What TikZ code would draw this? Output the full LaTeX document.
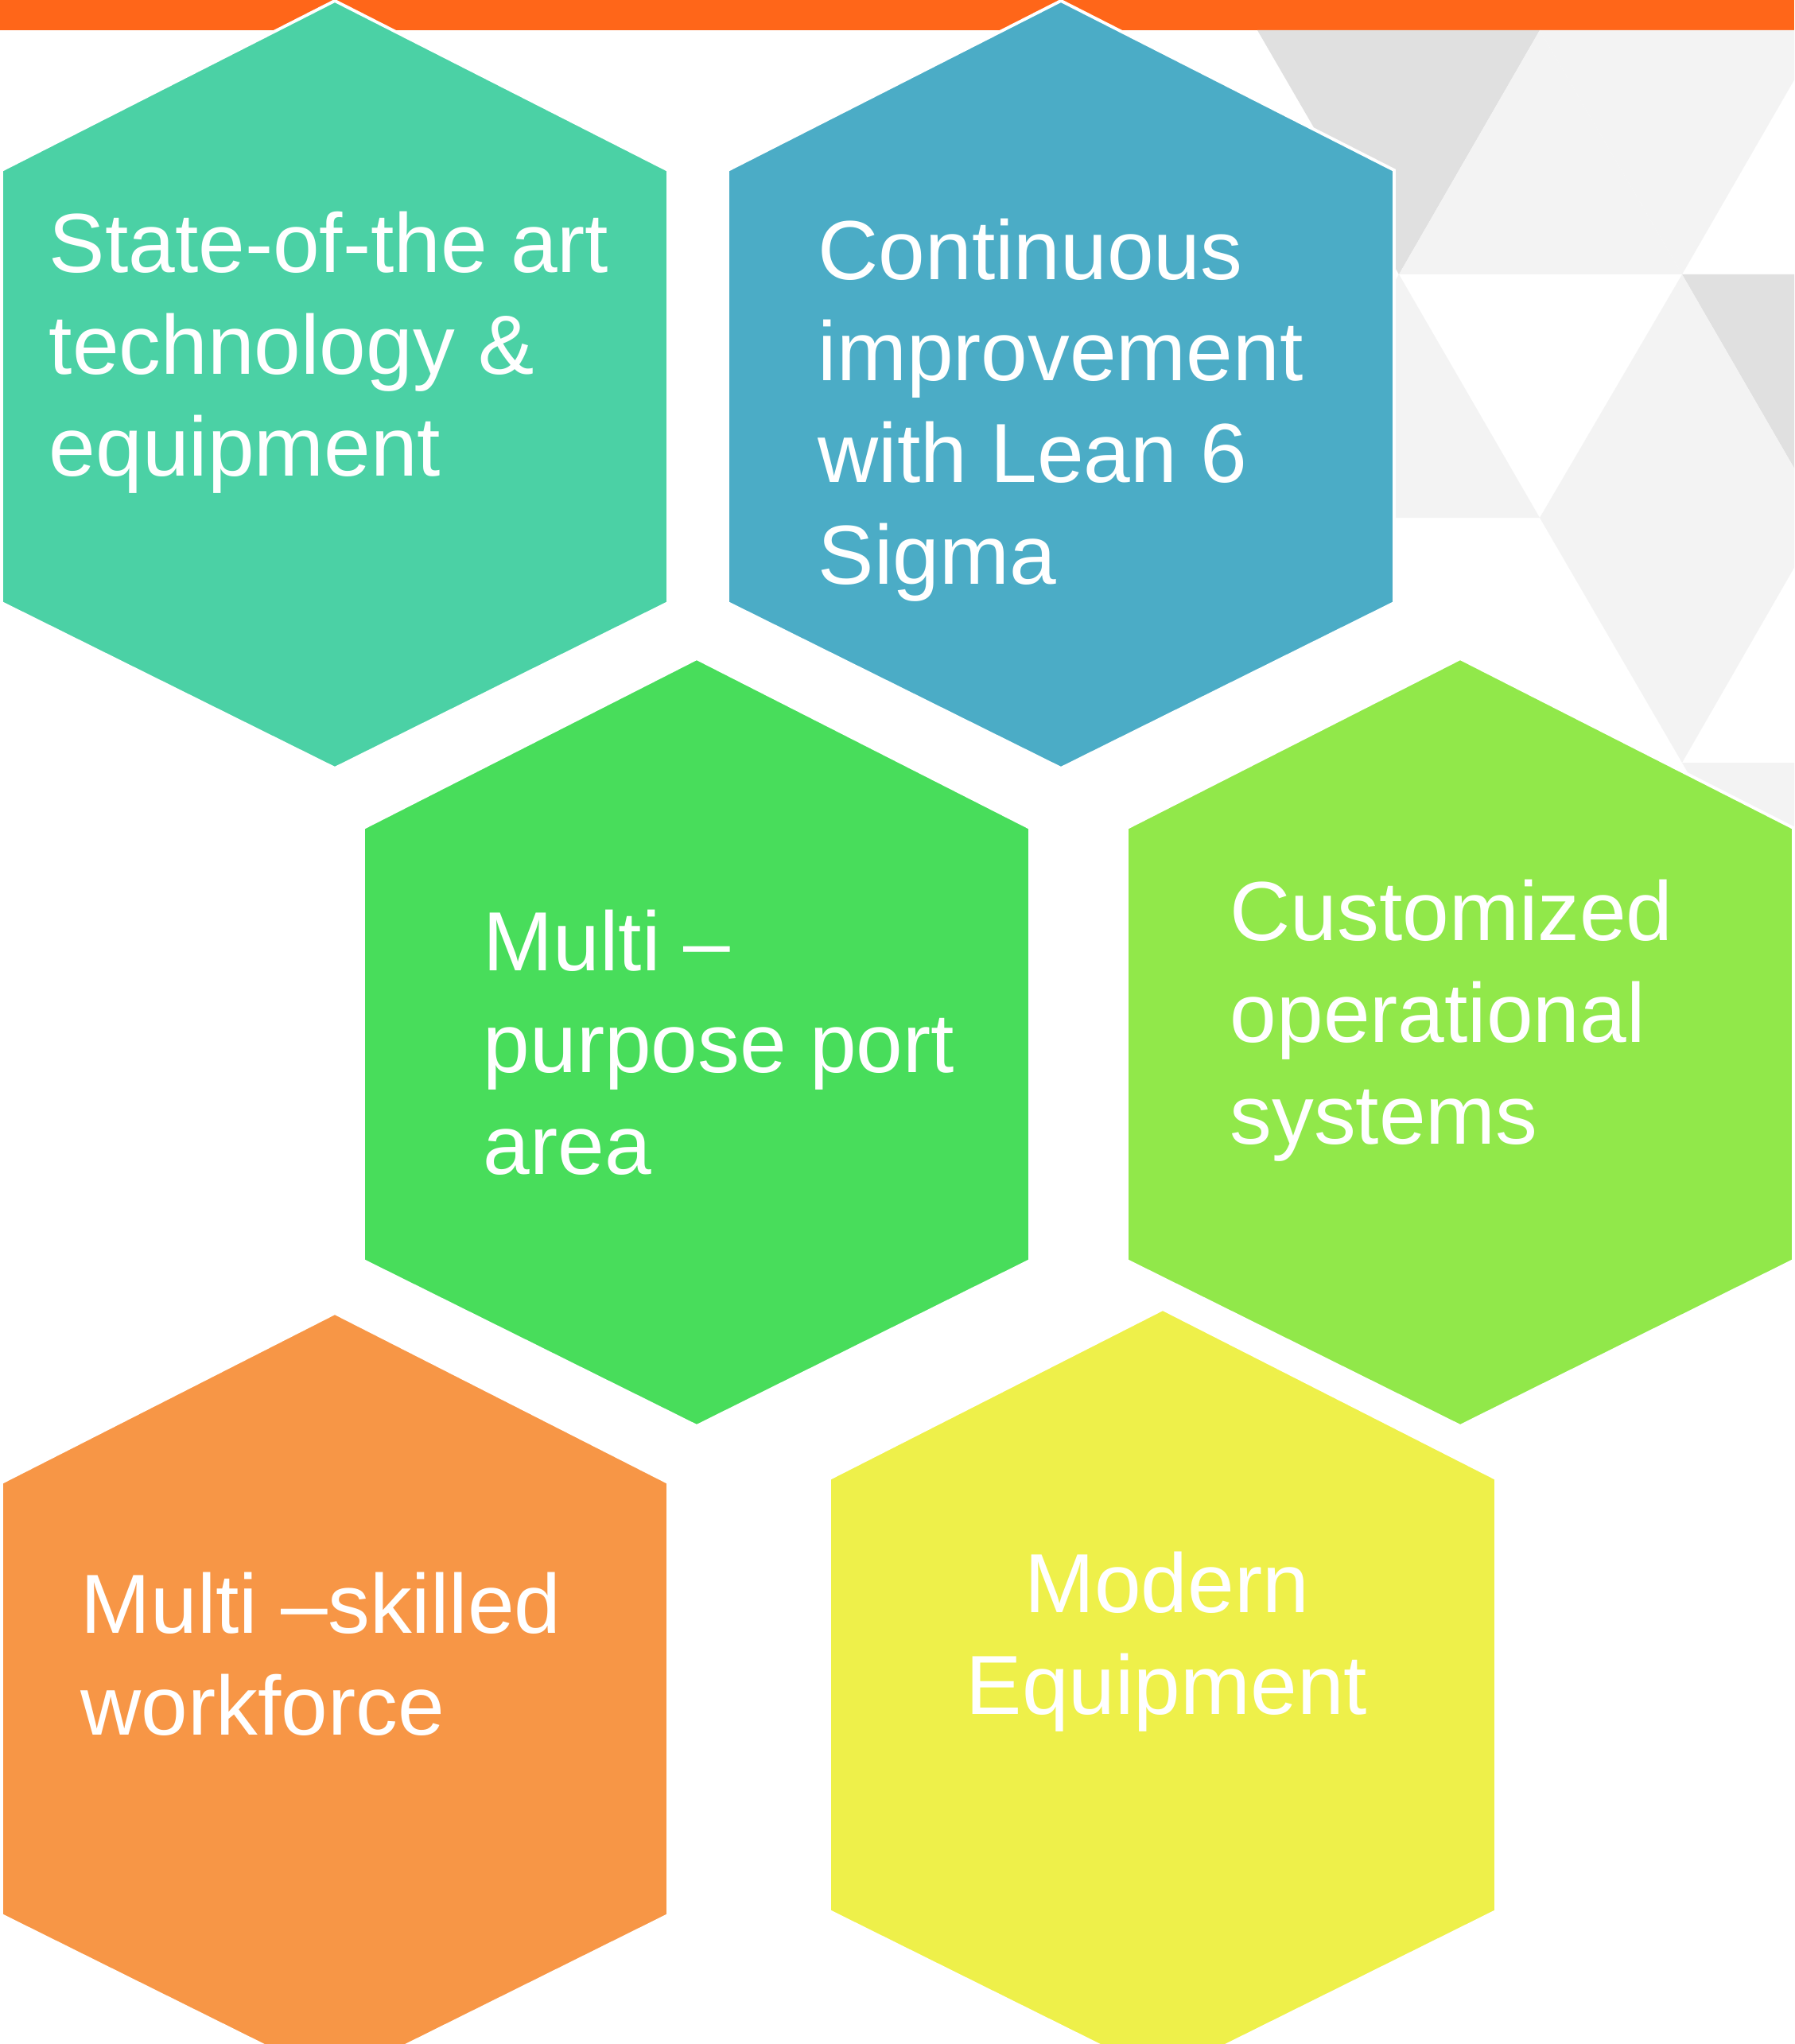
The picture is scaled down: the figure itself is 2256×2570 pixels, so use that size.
\documentclass[tikz,border=0pt]{standalone}
\usepackage{fontspec}
\setmainfont{Liberation Sans}
\definecolor{barorange}{HTML}{FF6619}
\definecolor{hexteal}{HTML}{4BD1A5}
\definecolor{hexblue}{HTML}{4BACC6}
\definecolor{hexgreen}{HTML}{48DD5B}
\definecolor{hexlime}{HTML}{91E84A}
\definecolor{hexorange}{HTML}{F79646}
\definecolor{hexyellow}{HTML}{EEF04A}
\definecolor{darktri}{HTML}{E0E0E0}
\definecolor{lighttri}{HTML}{F3F3F3}
\tikzset{
  hexa/.style={draw=white, line width=1.1pt, line join=miter},
  hexlabel/.style={text=white, inner sep=0pt, align=left,
    font=\fontsize{30}{36.3}\selectfont}
}
\begin{document}
\begin{tikzpicture}[x=0.01cm, y=-0.01cm]
\clip (0,0) rectangle (2256,2570);
\fill[white] (0,0) rectangle (2256,2570);
%top bar
\fill[barorange] (0,0) rectangle (2256,38);
%background triangles
\fill[darktri] (1581,38) -- (1936,38) -- (1759,345) -- cycle;
\fill[darktri] (2115,345) -- (2471,345) -- (2292,651) -- cycle;
\fill[lighttri] (1759,345) -- (2115,345) -- (1936,38) -- cycle;
\fill[lighttri] (1936,38) -- (2292,38) -- (2115,345) -- cycle;
\fill[lighttri] (1581,651) -- (1936,651) -- (1759,345) -- cycle;
\fill[lighttri] (1936,651) -- (2292,651) -- (2115,345) -- cycle;
\fill[lighttri] (1936,651) -- (2292,651) -- (2115,959) -- cycle;
\fill[lighttri] (2115,959) -- (2471,959) -- (2292,1266) -- cycle;
%Hex I
\filldraw[hexa, fill=hexteal] (421,1) -- ++(419,213) -- ++(0,544) -- ++(-419,208) -- ++(-419,-208) -- ++(0,-544) -- cycle;
%Hex II
\filldraw[hexa, fill=hexblue] (1334,1) -- ++(419,213) -- ++(0,544) -- ++(-419,208) -- ++(-419,-208) -- ++(0,-544) -- cycle;
%Hex III
\filldraw[hexa, fill=hexgreen] (876,828) -- ++(419,213) -- ++(0,544) -- ++(-419,208) -- ++(-419,-208) -- ++(0,-544) -- cycle;
%Hex IV
\filldraw[hexa, fill=hexlime] (1836,828) -- ++(419,213) -- ++(0,544) -- ++(-419,208) -- ++(-419,-208) -- ++(0,-544) -- cycle;
%Hex V
\filldraw[hexa, fill=hexorange] (421,1651) -- ++(419,213) -- ++(0,544) -- ++(-419,208) -- ++(-419,-208) -- ++(0,-544) -- cycle;
%Hex VI
\filldraw[hexa, fill=hexyellow] (1462,1646) -- ++(419,213) -- ++(0,544) -- ++(-419,208) -- ++(-419,-208) -- ++(0,-544) -- cycle;
%labels (base = last line)
\node[hexlabel, anchor=base west] (techlbl) at (61,598) {State-of-the art\\technology \&\\equipment};
\node[hexlabel, anchor=base west] (leanlbl) at (1028,734) {Continuous\\improvement\\with Lean 6\\Sigma};
\node[hexlabel, anchor=base west] (portlbl) at (607,1476) {Multi –\\purpose port\\area};
\node[hexlabel, anchor=base west] (syslbl) at (1546,1438) {Customized\\operational\\systems};
\node[hexlabel, anchor=base west] (worklbl) at (101,2181) {Multi –skilled\\workforce};
\node[hexlabel, align=center, anchor=base] (equiplbl) at (1467,2155) {Modern\\Equipment};
\end{tikzpicture}
\end{document}
